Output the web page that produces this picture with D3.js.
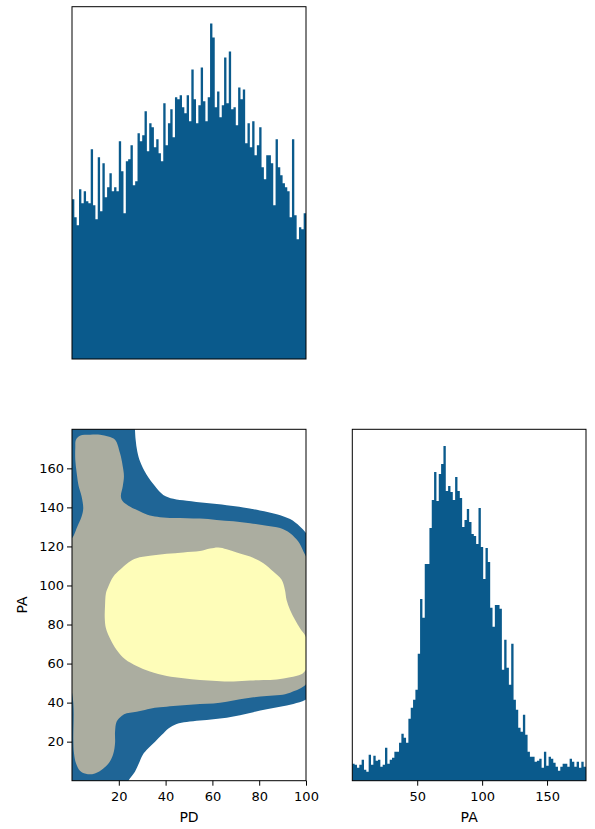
<!DOCTYPE html>
<html><head><meta charset="utf-8">
<script src="https://cdn.jsdelivr.net/npm/d3@7"></script>
<style>
body{margin:0;background:#fff}
svg{display:block}
text{font-family:"DejaVu Sans",sans-serif;fill:#000}
</style>
</head><body>
<svg id="c" width="595" height="829"></svg>
<script>
// ---------- data ----------
const pdDomain = [0, 100];
const paDomain = [0, 180];
// PD histogram counts (100 bins over 0..100)
const pdCounts = [80,71,67,85,78,84,79,78,105,77, 70,101,74,98,81,86,93,84,86,84,
  109,94,73,99,100,107,87,89,113,109, 112,124,104,118,116,106,110,103,99,128,
  107,118,125,111,131,130,132,126,123,132, 119,145,130,118,127,146,129,119,131,168,
  161,126,134,121,127,151,128,154,125,126, 117,136,130,135,108,118,106,119,102,107,
  116,96,90,102,102,98,77,110,96,92, 88,86,84,71,110,72,60,66,65,73];
// PA histogram counts (100 bins over 0..180)
const paCounts = [17,16,13,16,21,11,9,26,16,25, 20,21,14,16,33,17,21,23,29,29,
  38,47,43,38,62,73,81,91,127,182, 163,217,217,253,281,309,280,307,317,335,
  290,295,289,281,304,290,283,254,261,272, 259,247,245,237,273,234,202,233,219,173,
  154,176,176,172,111,141,113,96,137,81, 71,53,49,66,46,29,24,24,19,20,
  22,13,29,15,24,22,18,14,10,14, 17,17,14,22,19,14,19,13,19,14];
const pdTicks = [20, 40, 60, 80, 100];
const paTicksY = [20, 40, 60, 80, 100, 120, 140, 160];
const paTicksX = [50, 100, 150];
const pdLabel = "PD";
const paLabel = "PA";
// KDE contour levels, [PD, PA] vertices (outermost to innermost)
const contourOuter = [[-9.4,193],[26.5,193],[26.9,180.1],[27.2,174.6],[27.9,168.6],[29.1,163.5],
  [31.9,156.7],[35.5,150.8],[39.0,146.4],[43.3,144.4],[49.0,143.4],[57.5,142.2],[66.1,141.1],
  [73.2,140.0],[80.3,138.4],[87.5,136.5],[93.2,134.0],[97.4,130.2],[101.0,125.1],[102.4,120.0],
  [103.1,82.4],[102.4,44.8],[99.6,41.3],[94.6,39.3],[88.9,37.9],[83.2,36.6],[77.5,35.1],
  [71.8,33.5],[66.1,32.3],[60.4,31.5],[54.7,30.8],[49.0,30.1],[44.7,29.1],[41.2,26.8],
  [38.3,23.4],[35.5,20.0],[32.6,16.6],[30.2,13.2],[28.6,8.9],[26.9,4.6],[24.8,1.2],[21.9,-3.1],
  [-9.4,-3.1]];
const contourMiddle = [[1.7,174.6],[3.4,176.7],[7.7,177.2],[12.0,177.2],[15.5,176.3],[18.4,174.6],
  [20.5,167.8],[21.7,161.0],[22.2,156.0],[21.7,150.8],[20.9,145.6],[21.7,143.1],[24.1,140.9],
  [29.1,137.9],[33.3,135.8],[37.6,135.0],[43.3,134.6],[49.0,134.5],[54.7,134.3],[61.8,133.6],
  [69.0,132.9],[76.1,131.9],[83.2,130.6],[88.9,129.4],[93.2,126.8],[96.7,122.5],[98.9,117.4],
  [101.0,111.4],[101.7,82.4],[101.0,51.6],[98.9,48.2],[93.2,45.1],[88.9,43.9],[83.2,43.4],
  [77.5,42.7],[71.8,41.7],[66.1,40.5],[60.4,39.6],[54.7,39.3],[49.0,38.8],[43.3,38.3],
  [37.6,37.6],[33.3,36.9],[29.1,35.7],[26.2,35.1],[23.4,34.5],[21.2,33.2],[19.1,30.3],
  [18.4,25.1],[18.4,19.2],[17.7,14.0],[16.2,9.8],[13.4,6.3],[9.8,3.75],[6.3,3.4],[3.4,5.1],
  [1.7,8.9],[0.85,14.0],[0.57,20.8],[0.57,39.6],[-1.6,58.5],[-1.6,120.0],[0.85,125.9],
  [2.3,130.2],[4.1,135.3],[4.8,139.6],[4.1,145.6],[2.85,150.8],[2.0,157.6],[1.4,164.4],[1.4,170.3]];
const contourInner = [[15.5,99.4],[17.7,104.6],[20.5,108.0],[24.1,111.8],[27.6,114.0],[33.3,115.2],
  [40.5,116.2],[47.6,116.9],[54.7,117.6],[59.0,118.9],[62.5,119.5],[66.1,118.6],[70.4,116.9],
  [76.1,114.8],[81.8,111.4],[86.0,107.1],[89.6,102.9],[91.0,97.7],[91.7,92.6],[93.2,87.5],
  [95.3,82.4],[97.5,78.0],[99.8,74.0],[101.5,66.0],[100.5,58.0],[98.0,54.5],[93.2,53.0],
  [87.5,51.9],[81.8,51.6],[76.1,51.3],[69.0,50.8],[61.8,51.1],[54.7,51.6],[47.6,52.5],
  [40.5,53.6],[33.3,55.9],[27.6,58.8],[22.7,62.2],[19.1,67.0],[16.2,73.0],[14.5,78.1],
  [14.0,83.2],[14.1,89.2],[14.5,96.0]];
const contourColors = ["#1f6596", "#abada0", "#fefdb9"];
const barColor = "#0a5a8c";

// ---------- layout ----------
const svg = d3.select("#c");
const P_top = {l:72, r:306, t:6.7, b:359};
const P_bl  = {l:72, r:306, t:429.3, b:780.7};
const P_br  = {l:352.3, r:586, t:429.3, b:780.7};
const tickFont = 13, labelFont = 14;

// stepfilled histogram: one filled outline through all bins
function histogram(P, domain, counts) {
  const x = d3.scaleLinear().domain(domain).range([P.l, P.r]);
  const y = d3.scaleLinear().domain([0, d3.max(counts) * 1.05]).range([P.b, P.t]);
  const n = counts.length, w = (domain[1] - domain[0]) / n;
  const pts = counts.map((c, i) => ({e: domain[0] + i * w, c}));
  pts.push({e: domain[1], c: counts[n - 1]});
  const area = d3.area().curve(d3.curveStepAfter)
    .x(d => x(d.e)).y0(y(0)).y1(d => y(d.c));
  svg.append("path").datum(pts).attr("d", area).attr("fill", barColor);
  return x;
}
function frame(P) {
  svg.append("rect").attr("x", P.l).attr("y", P.t)
    .attr("width", P.r - P.l).attr("height", P.b - P.t)
    .attr("fill", "none").attr("stroke", "#000").attr("stroke-width", 1);
}
function styleAxis(g) {
  g.select(".domain").remove();
  g.selectAll("line").attr("stroke", "#000").attr("stroke-width", 1);
  g.selectAll("text").attr("font-size", tickFont).attr("font-family", "DejaVu Sans").attr("fill", "#000");
}

// top: PD histogram
histogram(P_top, pdDomain, pdCounts);
frame(P_top);

// bottom-right: PA histogram
const xPA = histogram(P_br, paDomain, paCounts);
frame(P_br);
svg.append("g").attr("transform", `translate(0,${P_br.b})`)
  .call(d3.axisBottom(xPA).tickValues(paTicksX).tickSize(5).tickPadding(6).tickFormat(d3.format("d")))
  .call(styleAxis);
svg.append("text").attr("x", (P_br.l + P_br.r) / 2).attr("y", 821.7)
  .attr("text-anchor", "middle").attr("font-size", labelFont).text(paLabel);

// bottom-left: contour
const xs = d3.scaleLinear().domain(pdDomain).range([P_bl.l, P_bl.r]);
const ys = d3.scaleLinear().domain(paDomain).range([P_bl.b, P_bl.t]);
svg.append("clipPath").attr("id", "clipBL").append("rect")
  .attr("x", P_bl.l).attr("y", P_bl.t).attr("width", P_bl.r - P_bl.l).attr("height", P_bl.b - P_bl.t);
const line = d3.line().x(d => xs(d[0])).y(d => ys(d[1])).curve(d3.curveCatmullRomClosed.alpha(0.5));
const gC = svg.append("g").attr("clip-path", "url(#clipBL)");
[contourOuter, contourMiddle, contourInner].forEach((poly, i) => {
  gC.append("path").attr("d", line(poly)).attr("fill", contourColors[i]).attr("stroke", "none");
});
frame(P_bl);
svg.append("g").attr("transform", `translate(0,${P_bl.b})`)
  .call(d3.axisBottom(xs).tickValues(pdTicks).tickSize(5).tickPadding(6).tickFormat(d3.format("d")))
  .call(styleAxis);
svg.append("g").attr("transform", `translate(${P_bl.l},0)`)
  .call(d3.axisLeft(ys).tickValues(paTicksY).tickSize(5).tickPadding(3).tickFormat(d3.format("d")))
  .call(styleAxis);
svg.append("text").attr("x", (P_bl.l + P_bl.r) / 2).attr("y", 821.7)
  .attr("text-anchor", "middle").attr("font-size", labelFont).text(pdLabel);
svg.append("text").attr("transform", `translate(26.7,${(P_bl.t + P_bl.b) / 2}) rotate(-90)`)
  .attr("text-anchor", "middle").attr("font-size", labelFont).text(paLabel);
</script>
</body></html>
